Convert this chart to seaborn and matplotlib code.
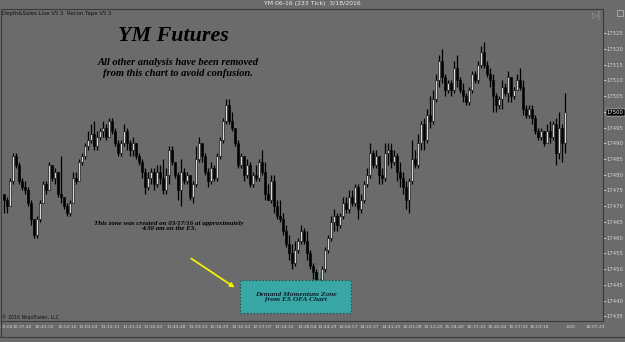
import numpy as np
import pandas as pd
import matplotlib
matplotlib.use("Agg")
import matplotlib.pyplot as plt
import seaborn as sns
from matplotlib.patches import Rectangle, FancyArrowPatch
from matplotlib.lines import Line2D

# ---- data (233 tick bars, YM 06-16) ----
first_open = 17474
closes = [17472, 17470, 17478, 17486, 17483, 17478, 17476, 17475, 17471, 17466,
          17461, 17466, 17471, 17477, 17475, 17483, 17479, 17481, 17474, 17473,
          17470, 17468, 17471, 17479, 17478, 17484, 17486, 17489, 17491, 17493,
          17489, 17492, 17494, 17495, 17492, 17497, 17494, 17490, 17487, 17490,
          17494, 17490, 17488, 17490, 17486, 17484, 17481, 17476, 17479, 17481,
          17477, 17481, 17479, 17475, 17480, 17488, 17484, 17480, 17475, 17481,
          17478, 17480, 17473, 17477, 17485, 17490, 17486, 17481, 17478, 17482,
          17479, 17486, 17491, 17497, 17502, 17497, 17495, 17490, 17483, 17486,
          17480, 17483, 17477, 17480, 17479, 17484, 17481, 17474, 17472, 17478,
          17470, 17467, 17466, 17462, 17458, 17455, 17452, 17456, 17459, 17462,
          17459, 17455, 17451, 17449, 17447, 17445, 17450, 17456, 17460, 17465,
          17467, 17464, 17467, 17471, 17469, 17473, 17471, 17476, 17469, 17472,
          17477, 17480, 17487, 17483, 17486, 17480, 17479, 17487, 17488, 17484,
          17486, 17481, 17479, 17476, 17472, 17478, 17485, 17483, 17490, 17496,
          17491, 17499, 17497, 17504, 17510, 17516, 17511, 17507, 17509, 17507,
          17514, 17510, 17507, 17505, 17503, 17507, 17512, 17510, 17515, 17519,
          17515, 17512, 17510, 17505, 17502, 17504, 17508, 17506, 17511, 17505,
          17507, 17510, 17508, 17501, 17499, 17501, 17498, 17494, 17492, 17494,
          17490, 17494, 17492, 17496, 17487, 17495, 17490, 17500]
highs = [17473, 17473, 17479, 17487, 17487, 17484, 17479, 17478, 17476, 17472,
         17466, 17467, 17472, 17478, 17478, 17484, 17482, 17482, 17479, 17486,
         17473, 17471, 17472, 17481, 17481, 17485, 17487, 17490, 17494, 17496,
         17497, 17494, 17495, 17497, 17496, 17498, 17498, 17495, 17491, 17491,
         17496, 17495, 17491, 17492, 17490, 17487, 17485, 17482, 17481, 17482,
         17482, 17483, 17483, 17485, 17482, 17489, 17489, 17484, 17481, 17485,
         17482, 17481, 17479, 17478, 17489, 17492, 17490, 17487, 17482, 17484,
         17483, 17487, 17492, 17498, 17504, 17504, 17500, 17495, 17491, 17487,
         17486, 17485, 17484, 17481, 17483, 17485, 17488, 17484, 17477, 17480,
         17480, 17472, 17472, 17468, 17464, 17461, 17458, 17459, 17460, 17464,
         17463, 17462, 17456, 17452, 17450, 17449, 17451, 17457, 17461, 17467,
         17469, 17468, 17468, 17473, 17473, 17475, 17475, 17477, 17477, 17474,
         17478, 17482, 17490, 17488, 17488, 17486, 17482, 17490, 17490, 17490,
         17488, 17487, 17484, 17481, 17478, 17479, 17491, 17488, 17493, 17497,
         17498, 17501, 17505, 17507, 17512, 17518, 17520, 17512, 17510, 17510,
         17516, 17518, 17511, 17509, 17506, 17508, 17513, 17513, 17516, 17521,
         17522, 17516, 17514, 17512, 17506, 17505, 17510, 17509, 17513, 17511,
         17508, 17512, 17514, 17510, 17502, 17502, 17502, 17499, 17495, 17495,
         17494, 17496, 17497, 17497, 17498, 17500, 17496, 17506]
lows = [17468, 17468, 17471, 17477, 17482, 17477, 17475, 17474, 17470, 17464,
        17460, 17460, 17465, 17471, 17474, 17475, 17478, 17477, 17473, 17471,
        17469, 17467, 17467, 17471, 17477, 17478, 17483, 17485, 17488, 17490,
        17488, 17488, 17491, 17492, 17491, 17492, 17493, 17489, 17486, 17486,
        17489, 17488, 17486, 17486, 17485, 17483, 17479, 17474, 17475, 17477,
        17475, 17476, 17477, 17474, 17474, 17477, 17483, 17479, 17472, 17470,
        17477, 17477, 17472, 17471, 17476, 17484, 17484, 17480, 17476, 17477,
        17478, 17478, 17485, 17490, 17496, 17496, 17494, 17489, 17482, 17482,
        17478, 17479, 17476, 17476, 17478, 17478, 17480, 17472, 17472, 17471,
        17468, 17466, 17465, 17461, 17457, 17453, 17450, 17451, 17455, 17458,
        17458, 17453, 17450, 17447, 17446, 17444, 17445, 17449, 17455, 17459,
        17462, 17462, 17463, 17466, 17468, 17468, 17470, 17470, 17466, 17468,
        17471, 17476, 17479, 17482, 17482, 17477, 17477, 17478, 17483, 17482,
        17483, 17478, 17476, 17474, 17469, 17468, 17477, 17482, 17482, 17488,
        17488, 17490, 17495, 17496, 17503, 17508, 17509, 17505, 17506, 17505,
        17506, 17508, 17506, 17503, 17502, 17502, 17506, 17509, 17509, 17514,
        17514, 17511, 17508, 17500, 17500, 17501, 17501, 17505, 17503, 17503,
        17504, 17507, 17507, 17499, 17498, 17498, 17496, 17493, 17491, 17491,
        17489, 17490, 17490, 17491, 17483, 17485, 17484, 17487]

price_ticks = list(range(17435, 17530, 5))
last_price = 17500
time_labels = ["10:20:04", "10:37:40", "10:43:20", "10:52:16", "11:03:04", "11:10:31",
               "11:21:22", "11:30:43", "11:40:48", "11:59:23", "12:18:25", "12:32:53",
               "12:57:07", "13:14:32", "13:28:54", "13:44:29", "14:04:57", "14:22:37",
               "14:41:25", "15:01:28", "15:12:25", "15:24:40", "15:37:23", "15:40:44",
               "15:57:33", "16:01:18", "3/20", "18:07:23"]
# where the time labels sit, in bar units
time_pos = [-0.3, 6, 13.3, 21, 28, 35.3, 42.7, 49.7, 57.3, 64.7, 71.7, 79, 86,
            93.3, 101, 107.7, 114.7, 121.7, 129, 136, 143, 150, 157.3, 164.3,
            171.3, 178.3, 189, 197]

df = pd.DataFrame({"close": closes, "high": highs, "low": lows})
df["open"] = df["close"].shift(1).fillna(first_open)
df["bar"] = np.arange(len(df))
df["up"] = df["close"] >= df["open"]
df["body_lo"] = df[["open", "close"]].min(axis=1)
df["body_h"] = (df["close"] - df["open"]).abs().clip(lower=0.4)

bg = "#6b6b6b"
sns.set_style("dark", {"axes.facecolor": bg, "figure.facecolor": bg})
plt.rcParams["font.family"] = ["DejaVu Sans"]

W, H = 625, 342
fig = plt.figure(figsize=(6.25, 3.42), dpi=100)
ax = fig.add_axes([2 / W, 1 - 321 / H, 601 / W, 312 / H])

# wicks and bodies
ax.vlines(df["bar"], np.minimum(df["low"], df["body_lo"]),
          np.maximum(df["high"], df["body_lo"] + df["body_h"]),
          color="black", lw=0.9, zorder=2)
ax.bar(df["bar"], df["body_h"], bottom=df["body_lo"], width=0.7,
       color=np.where(df["up"], "#d8d8d8", "#000000"),
       edgecolor="black", linewidth=0.4, zorder=3)

ax.set_xlim(-0.67, 199.67)
ax.set_ylim(17433.57, 17532.62)
ax.grid(False)

ax.yaxis.tick_right()
ax.set_yticks(price_ticks, labels=[str(p) for p in price_ticks])
ax.set_xticks(time_pos, labels=time_labels)
ax.tick_params(axis="y", labelsize=3.8, colors="#d4d4d4", length=2,
               width=0.6, direction="out", pad=0.8)
ax.tick_params(axis="x", labelsize=3.2, colors="#d4d4d4", length=1.5,
               width=0.6, direction="out", pad=1.2)
ax.set_xticks(np.arange(0, 199, 2.3), minor=True)
ax.tick_params(axis="x", which="minor", length=1, width=0.5, colors="#cfcfcf")
for lbl in ax.get_yticklabels():
    if lbl.get_text() == str(last_price):
        lbl.set_color("white")
        lbl.set_bbox(dict(facecolor="black", edgecolor="white", lw=0.3, pad=0.6))
for side in ["top", "right", "bottom"]:
    ax.spines[side].set_color("#3a3a3a")
    ax.spines[side].set_linewidth(0.8)
ax.spines["left"].set_visible(False)


def fx(px):
    return px / W


def fy(py):
    return 1 - py / H


# header texts
fig.text(0.5, fy(4), "YM 06-16 (233 Tick)  3/18/2016", ha="center", va="center",
         fontsize=4.4, color="#ececec")
fig.text(fx(2), fy(14), "Depth&Sales Live V5.3  Recon Tape V5.3", ha="left",
         va="center", fontsize=3.9, color="#111111")
fig.text(fx(2), fy(317), "\u00a9 2016 NinjaTrader, LLC", ha="left", va="center",
         fontsize=3.3, color="#111111")
fig.text(fx(597), fy(15), "\u25b7|", ha="center", va="center", fontsize=6,
         color="#9c9c9c")
fig.add_artist(Rectangle((fx(617), fy(16)), 6 / W, 6 / H, transform=fig.transFigure,
                         facecolor="none", edgecolor="#bdbdbd", lw=0.5))
fig.add_artist(Line2D([0, 1], [fy(337), fy(337)], transform=fig.transFigure,
                      color="#3c3c3c", lw=0.8))
fig.add_artist(Line2D([fx(0.5), fx(0.5)], [fy(8.5), fy(337)], transform=fig.transFigure,
                      color="#3c3c3c", lw=0.8))

# annotations
serif = ["Liberation Serif", "DejaVu Serif"]
fig.text(fx(173), fy(36), "YM Futures", ha="center", va="center", fontsize=15.8,
         family=serif, fontweight="bold", fontstyle="italic", color="black")
fig.text(fx(178), fy(68), "All other analysis have been removed\nfrom this chart to avoid confusion.",
         ha="center", va="center", fontsize=7.6, family=serif, fontweight="bold",
         fontstyle="italic", color="black", linespacing=1.15)
fig.text(fx(169), fy(226), "This zone was created on 03/17/16 at approximately\n4:30 am on the ES.",
         ha="center", va="center", fontsize=5.0, family=serif, fontweight="bold",
         fontstyle="italic", color="black", linespacing=1.1)

fig.add_artist(Line2D([fx(319), fx(319)], [fy(266), fy(281)], transform=fig.transFigure,
                      color="#2fa3a3", lw=0.9))
fig.add_artist(Rectangle((fx(240), fy(313)), 111 / W, 33 / H, transform=fig.transFigure,
                         facecolor="#3aa7a7", edgecolor="#1e4a4a", lw=0.9, linestyle=":"))
fig.text(fx(296), fy(297), "Demand Momentum Zone\nfrom ES OFA Chart", ha="center",
         va="center", fontsize=5.4, family=serif, fontweight="bold", fontstyle="italic",
         color="#0b1f2a", linespacing=1.1)

fig.add_artist(FancyArrowPatch((fx(189), fy(257)), (fx(237), fy(289)),
                               transform=fig.transFigure, arrowstyle="-|>",
                               mutation_scale=6, color="#f2f200", lw=1.3))

fig.savefig("out.png", dpi=100, facecolor=bg)
